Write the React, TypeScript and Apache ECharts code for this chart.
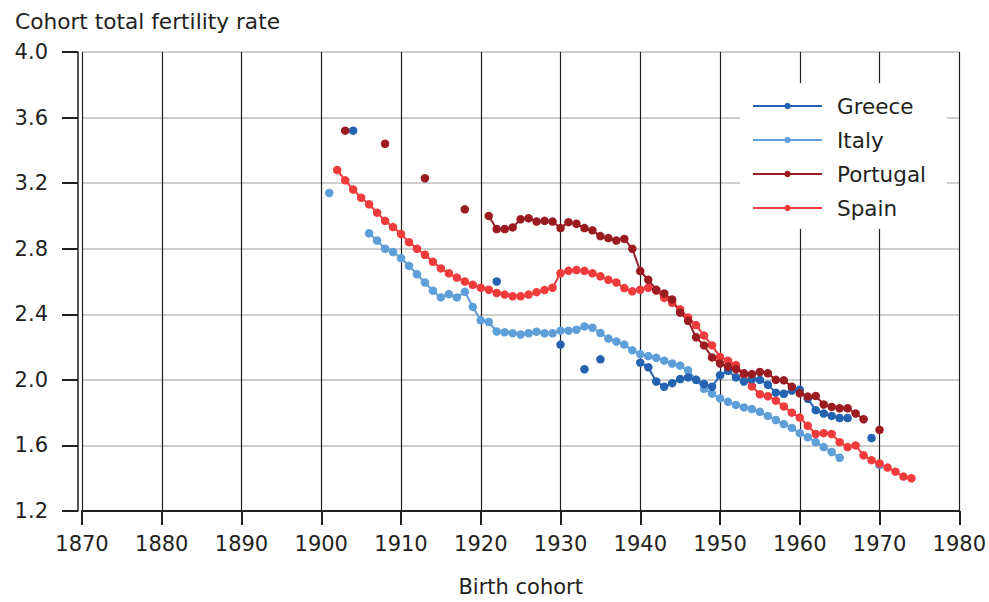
import React, { useEffect, useRef } from "react";
import * as echarts from "echarts";

type Pt = [number, number];

const greece: Pt[] = [
  [1904, 3.52], [1922, 2.6], [1930, 2.215], [1933, 2.065], [1935, 2.125],
  [1940, 2.105], [1941, 2.077], [1942, 1.99], [1943, 1.958], [1944, 1.98],
  [1945, 2.005], [1946, 2.015], [1947, 2.0], [1948, 1.975], [1949, 1.958],
  [1950, 2.028], [1951, 2.055], [1952, 2.015], [1953, 1.99], [1954, 2.005],
  [1955, 2.0], [1956, 1.97], [1957, 1.922], [1958, 1.915], [1959, 1.935],
  [1960, 1.94], [1961, 1.885], [1962, 1.815], [1963, 1.795], [1964, 1.78],
  [1965, 1.767], [1966, 1.767], [1969, 1.645],
];

const italy: Pt[] = [
  [1901, 3.14],
  [1906, 2.894], [1907, 2.85], [1908, 2.8], [1909, 2.78], [1910, 2.743],
  [1911, 2.695], [1912, 2.644], [1913, 2.594], [1914, 2.544], [1915, 2.503],
  [1916, 2.523], [1917, 2.503], [1918, 2.537], [1919, 2.445], [1920, 2.363],
  [1921, 2.353], [1922, 2.295], [1923, 2.29], [1924, 2.285], [1925, 2.277],
  [1926, 2.284], [1927, 2.294], [1928, 2.284], [1929, 2.284], [1930, 2.3],
  [1931, 2.3], [1932, 2.306], [1933, 2.326], [1934, 2.318], [1935, 2.286],
  [1936, 2.252], [1937, 2.234], [1938, 2.215], [1939, 2.18], [1940, 2.157],
  [1941, 2.145], [1942, 2.135], [1943, 2.117], [1944, 2.1], [1945, 2.087],
  [1946, 2.058], [1947, 2.0], [1948, 1.945], [1949, 1.916], [1950, 1.887],
  [1951, 1.866], [1952, 1.847], [1953, 1.832], [1954, 1.822], [1955, 1.805],
  [1956, 1.78], [1957, 1.755], [1958, 1.73], [1959, 1.707], [1960, 1.675],
  [1961, 1.65], [1962, 1.62], [1963, 1.59], [1964, 1.56], [1965, 1.525],
  [1970, 1.48],
];

const portugal: Pt[] = [
  [1903, 3.52], [1908, 3.44], [1913, 3.23], [1918, 3.04],
  [1921, 3.0], [1922, 2.92], [1923, 2.92], [1924, 2.93], [1925, 2.98],
  [1926, 2.986], [1927, 2.966], [1928, 2.97], [1929, 2.966], [1930, 2.926],
  [1931, 2.962], [1932, 2.952], [1933, 2.926], [1934, 2.912], [1935, 2.877],
  [1936, 2.865], [1937, 2.85], [1938, 2.86], [1939, 2.8], [1940, 2.664],
  [1941, 2.61], [1942, 2.55], [1943, 2.527], [1944, 2.49], [1945, 2.41],
  [1946, 2.36], [1947, 2.26], [1948, 2.21], [1949, 2.137], [1950, 2.1],
  [1951, 2.08], [1952, 2.065], [1953, 2.04], [1954, 2.035], [1955, 2.048],
  [1956, 2.04], [1957, 2.0], [1958, 1.997], [1959, 1.958], [1960, 1.918],
  [1961, 1.898], [1962, 1.902], [1963, 1.85], [1964, 1.835], [1965, 1.827],
  [1966, 1.827], [1967, 1.795], [1968, 1.76],
  [1970, 1.695],
];

const spain: Pt[] = [
  [1902, 3.28], [1903, 3.217], [1904, 3.161], [1905, 3.111], [1906, 3.071],
  [1907, 3.02], [1908, 2.97], [1909, 2.932], [1910, 2.89], [1911, 2.84],
  [1912, 2.8], [1913, 2.763], [1914, 2.72], [1915, 2.68], [1916, 2.65],
  [1917, 2.624], [1918, 2.6], [1919, 2.58], [1920, 2.562], [1921, 2.55],
  [1922, 2.53], [1923, 2.52], [1924, 2.51], [1925, 2.51], [1926, 2.52],
  [1927, 2.535], [1928, 2.548], [1929, 2.562], [1930, 2.65], [1931, 2.665],
  [1932, 2.67], [1933, 2.665], [1934, 2.65], [1935, 2.632], [1936, 2.61],
  [1937, 2.594], [1938, 2.56], [1939, 2.54], [1940, 2.55], [1941, 2.562],
  [1942, 2.544], [1943, 2.5], [1944, 2.47], [1945, 2.43], [1946, 2.38],
  [1947, 2.334], [1948, 2.27], [1949, 2.21], [1950, 2.14], [1951, 2.117],
  [1952, 2.09], [1953, 2.03], [1954, 1.96], [1955, 1.912], [1956, 1.9],
  [1957, 1.873], [1958, 1.838], [1959, 1.8], [1960, 1.77], [1961, 1.72],
  [1962, 1.67], [1963, 1.675], [1964, 1.67], [1965, 1.62], [1966, 1.59],
  [1967, 1.6], [1968, 1.54], [1969, 1.51], [1970, 1.49], [1971, 1.465],
  [1972, 1.44], [1973, 1.41], [1974, 1.4],
];

const seriesNames = ["Greece", "Italy", "Portugal", "Spain"];
const seriesColors = ["#2463b1", "#5e9ed9", "#9a1b20", "#ef3b3b"];
const xTitle = "Birth cohort";
const yTitle = "Cohort total fertility rate";

const FONT = "'DejaVu Sans', sans-serif";
const INK = "#231f20";

// insert null points between non-consecutive years so lines break
function withGaps(pts: Pt[]): (number | null)[][] {
  const out: (number | null)[][] = [];
  pts.forEach((p, i) => {
    if (i > 0 && p[0] - pts[i - 1][0] > 1) out.push([pts[i - 1][0] + 1, null]);
    out.push([p[0], p[1]]);
  });
  return out;
}

export default function App() {
  const ref = useRef<HTMLDivElement>(null);
  useEffect(() => {
    document.body.style.margin = "0";
    if (!ref.current) return;
    const chart = echarts.init(ref.current, undefined, { renderer: "svg" });
    const dataByName: Record<string, Pt[]> = {
      Greece: greece,
      Italy: italy,
      Portugal: portugal,
      Spain: spain,
    };
    const drawOrder = ["Italy", "Spain", "Greece", "Portugal"];
    chart.setOption({
      animation: false,
      backgroundColor: "#ffffff",
      title: {
        text: yTitle,
        left: 10,
        top: 5,
        textStyle: { fontFamily: FONT, fontSize: 21.7, fontWeight: "normal", color: INK },
      },
      grid: { left: 82, right: 27, top: 52, bottom: 86 },
      legend: {
        data: seriesNames,
        orient: "vertical",
        left: 740,
        top: 83,
        padding: [11, 21, 9, 12],
        backgroundColor: "#ffffff",
        itemWidth: 69,
        itemHeight: 8,
        itemGap: 10,
        textStyle: {
          fontFamily: FONT,
          fontSize: 21.5,
          color: INK,
          lineHeight: 24,
          padding: [0, 0, 0, 10],
        },
      },
      xAxis: {
        type: "value",
        min: 1870,
        max: 1980,
        interval: 10,
        name: xTitle,
        nameLocation: "middle",
        nameGap: 65,
        nameTextStyle: { fontFamily: FONT, fontSize: 21, color: INK },
        axisLine: { show: true, lineStyle: { color: INK, width: 2 } },
        axisTick: { show: true, length: 14, lineStyle: { color: INK, width: 2 } },
        axisLabel: {
          margin: 22,
          fontFamily: FONT,
          fontSize: 21,
          color: INK,
          formatter: (v: number) => String(v),
        },
        splitLine: { show: true, lineStyle: { color: INK, width: 1.2 } },
      },
      yAxis: {
        type: "value",
        min: 1.2,
        max: 4.0,
        interval: 0.4,
        offset: 4,
        axisLine: { show: true, lineStyle: { color: INK, width: 1.5 } },
        axisTick: { show: true, length: 16, lineStyle: { color: INK, width: 2 } },
        axisLabel: {
          margin: 30,
          fontFamily: FONT,
          fontSize: 21,
          color: INK,
          formatter: (v: number) => v.toFixed(1),
        },
        splitLine: { show: true, lineStyle: { color: "#bdbdbd", width: 1.5 } },
      },
      series: drawOrder.map((name) => {
        const idx = seriesNames.indexOf(name);
        return {
          name,
          type: "line",
          data: withGaps(dataByName[name]),
          connectNulls: false,
          showSymbol: true,
          symbol: "circle",
          symbolSize: 8.5,
          color: seriesColors[idx],
          lineStyle: { width: 2, color: seriesColors[idx] },
          itemStyle: { color: seriesColors[idx] },
        };
      }),
    });
    return () => chart.dispose();
  }, []);
  return <div ref={ref} style={{ width: 989, height: 602 }} />;
}
